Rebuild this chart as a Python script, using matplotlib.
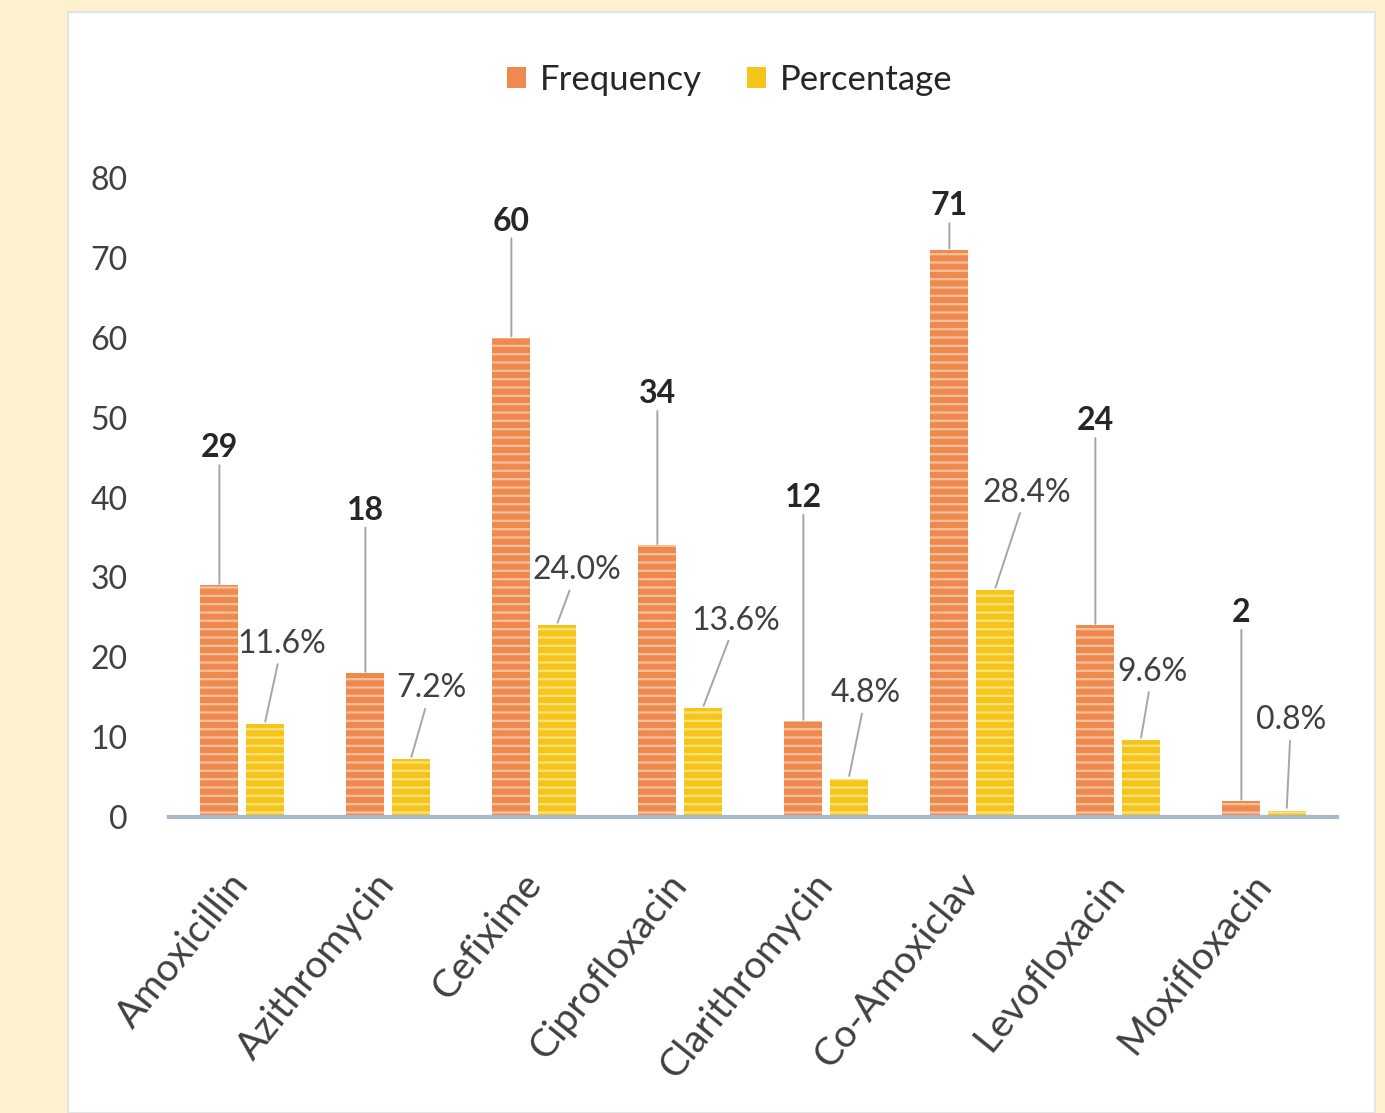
import matplotlib
matplotlib.use("Agg")
import matplotlib.pyplot as plt
from matplotlib.patches import Rectangle, Patch
import numpy as np

plt.rcParams['font.family'] = ['Lato', 'DejaVu Sans']

# Antibiotic usage data
drugs = ["Amoxicillin", "Azithromycin", "Cefixime", "Ciprofloxacin",
         "Clarithromycin", "Co-Amoxiclav", "Levofloxacin", "Moxifloxacin"]
frequency = [29, 18, 60, 34, 12, 71, 24, 2]
percentage = [11.6, 7.2, 24.0, 13.6, 4.8, 28.4, 9.6, 0.8]

# Data-label placement (value-axis units / category offsets)
freq_label_y = [46.2, 38.4, 74.6, 53.0, 40.0, 76.5, 49.6, 25.6]
pct_label_dx = [0.12, 0.14, 0.14, 0.23, 0.12, 0.22, 0.08, 0.03]
pct_label_y = [21.7, 16.1, 30.9, 24.6, 15.5, 40.6, 18.2, 12.1]

orange = "#EE8A4F"
orange_stripe = "#F8C09A"
yellow = "#F6C51C"
yellow_stripe = "#FBE27A"
label_dark = "#262626"
label_gray = "#404040"
leader = "#A6A6A6"

fig = plt.figure(figsize=(13.85, 11.13), dpi=100)
fig.patch.set_facecolor("#FFF0CF")

# white chart panel
panel = Rectangle((68 / 1385, 0), (1375 - 68) / 1385, 1 - 12 / 1113,
                  transform=fig.transFigure, facecolor="white",
                  edgecolor="#E4E4E4", linewidth=1.5, zorder=-10)
fig.patches.append(panel)

ax = fig.add_axes([169 / 1385, 1 - 817 / 1113, (1337 - 169) / 1385,
                   (817 - 178) / 1113])
ax.set_facecolor("none")
ax.set_zorder(1)

x = np.arange(len(drugs))
w = 0.26
off = 0.155

plt.rcParams['hatch.linewidth'] = 1.6
ax.bar(x - off, frequency, w, color=orange, edgecolor=orange_stripe,
       hatch="--", linewidth=0, zorder=2)
ax.bar(x + off, percentage, w, color=yellow, edgecolor=yellow_stripe,
       hatch="--", linewidth=0, zorder=2)

ax.set_xlim(-0.5, len(drugs) - 0.5)
ax.set_ylim(0, 80)
ax.set_yticks(range(0, 81, 10))
ax.tick_params(axis="y", length=0, pad=30, labelsize=23, labelcolor=label_gray)
ax.tick_params(axis="x", length=0, pad=44, labelsize=28, labelcolor=label_gray)
ax.set_xticks(x)
ax.set_xticklabels(drugs, rotation=51, ha="right", va="center",
                   rotation_mode="anchor")

for s in ["left", "right", "top"]:
    ax.spines[s].set_visible(False)
ax.spines["bottom"].set_color("#A9B8C8")
ax.spines["bottom"].set_linewidth(3)

# frequency labels with vertical leader lines
for i, (v, ly) in enumerate(zip(frequency, freq_label_y)):
    ax.annotate(str(v), xy=(i - off, v), xytext=(i - off, ly),
                ha="center", va="center", fontsize=23, fontweight="bold",
                color=label_dark, annotation_clip=False,
                arrowprops=dict(arrowstyle="-", color=leader, lw=1.4,
                                shrinkA=0, shrinkB=1))

# percentage labels with leader lines
for i, (v, dx, ly) in enumerate(zip(percentage, pct_label_dx, pct_label_y)):
    ax.annotate(f"{v:.1f}%", xy=(i + off, v), xytext=(i + off + dx, ly),
                ha="center", va="center", fontsize=23, color=label_gray,
                annotation_clip=False,
                arrowprops=dict(arrowstyle="-", color=leader, lw=1.4,
                                shrinkA=2, shrinkB=2))

handles = [Patch(facecolor=orange, label="Frequency"),
           Patch(facecolor=yellow, label="Percentage")]
fig.legend(handles=handles, loc="center", ncol=2,
           bbox_to_anchor=(730 / 1385, 1 - 80 / 1113), frameon=False,
           fontsize=25, handlelength=0.55, handleheight=0.55,
           handletextpad=0.4, columnspacing=1.3, labelcolor=label_dark)

fig.savefig("out.png", dpi=100, facecolor=fig.get_facecolor())
